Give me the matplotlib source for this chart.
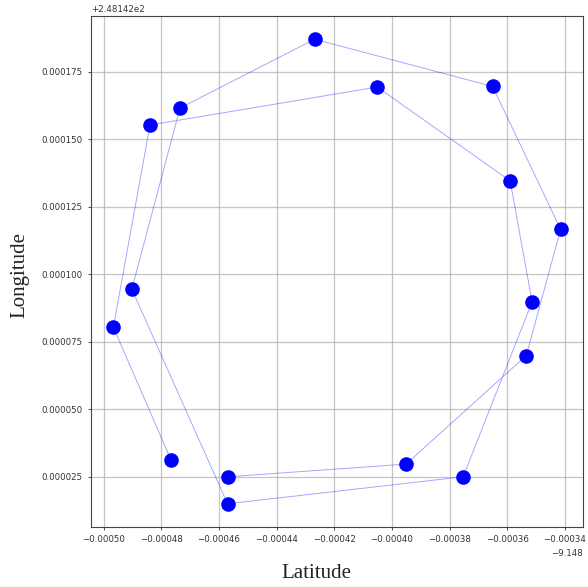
import matplotlib
matplotlib.use("Agg")
import matplotlib.pyplot as plt
import numpy as np

# Offsets of the coordinates (latitude plotted on x, longitude on y)
lat_base = -9.148
lon_base = 248.142

# Relative positions, in path order
lat_rel = [-0.0004766, -0.0004966, -0.0004839, -0.0004051, -0.0003590,
           -0.0003514, -0.0003753, -0.0004570, -0.0004902, -0.0004735,
           -0.0004268, -0.0003651, -0.0003415, -0.0003534, -0.0003951,
           -0.0004570]
lon_rel = [0.0000312, 0.0000804, 0.0001553, 0.0001694, 0.0001346,
           0.0000898, 0.0000250, 0.0000150, 0.0000945, 0.0001616,
           0.0001871, 0.0001696, 0.0001167, 0.0000699, 0.0000297,
           0.0000250]

lat = lat_base + np.array(lat_rel)
lon = lon_base + np.array(lon_rel)

fig = plt.figure(figsize=(5.88, 5.87), dpi=100)
ax = fig.add_axes([91/588, 1-527/587, (583-91)/588, (527-16)/587])

ax.plot(lat, lon, color='blue', alpha=0.35, linewidth=0.7, zorder=2)
ax.scatter(lat, lon, color='blue', s=90, zorder=3)

ax.grid(True, color='#b0b0b0', linewidth=0.9, alpha=0.75)
ax.set_axisbelow(True)
ax.tick_params(labelsize=6.2, length=2.5, width=0.6, colors='#333333')
for sp in ax.spines.values():
    sp.set_linewidth(0.8)
    sp.set_color('#444444')
ax.xaxis.get_offset_text().set_fontsize(6.2)
ax.yaxis.get_offset_text().set_fontsize(6.2)

ax.set_xlabel('Latitude', fontsize=15, family='Liberation Serif', color='#222222')
ax.set_ylabel('Longitude', fontsize=15, family='Liberation Serif', color='#222222')
ax.xaxis.set_label_coords((316-91)/492, -(574-527)/511)
ax.xaxis.label.set_va('center')
ax.yaxis.set_label_coords(-(91-20)/492, 1-(275-16)/511)
ax.yaxis.label.set_va('center')

fig.savefig('out.png', dpi=100)
